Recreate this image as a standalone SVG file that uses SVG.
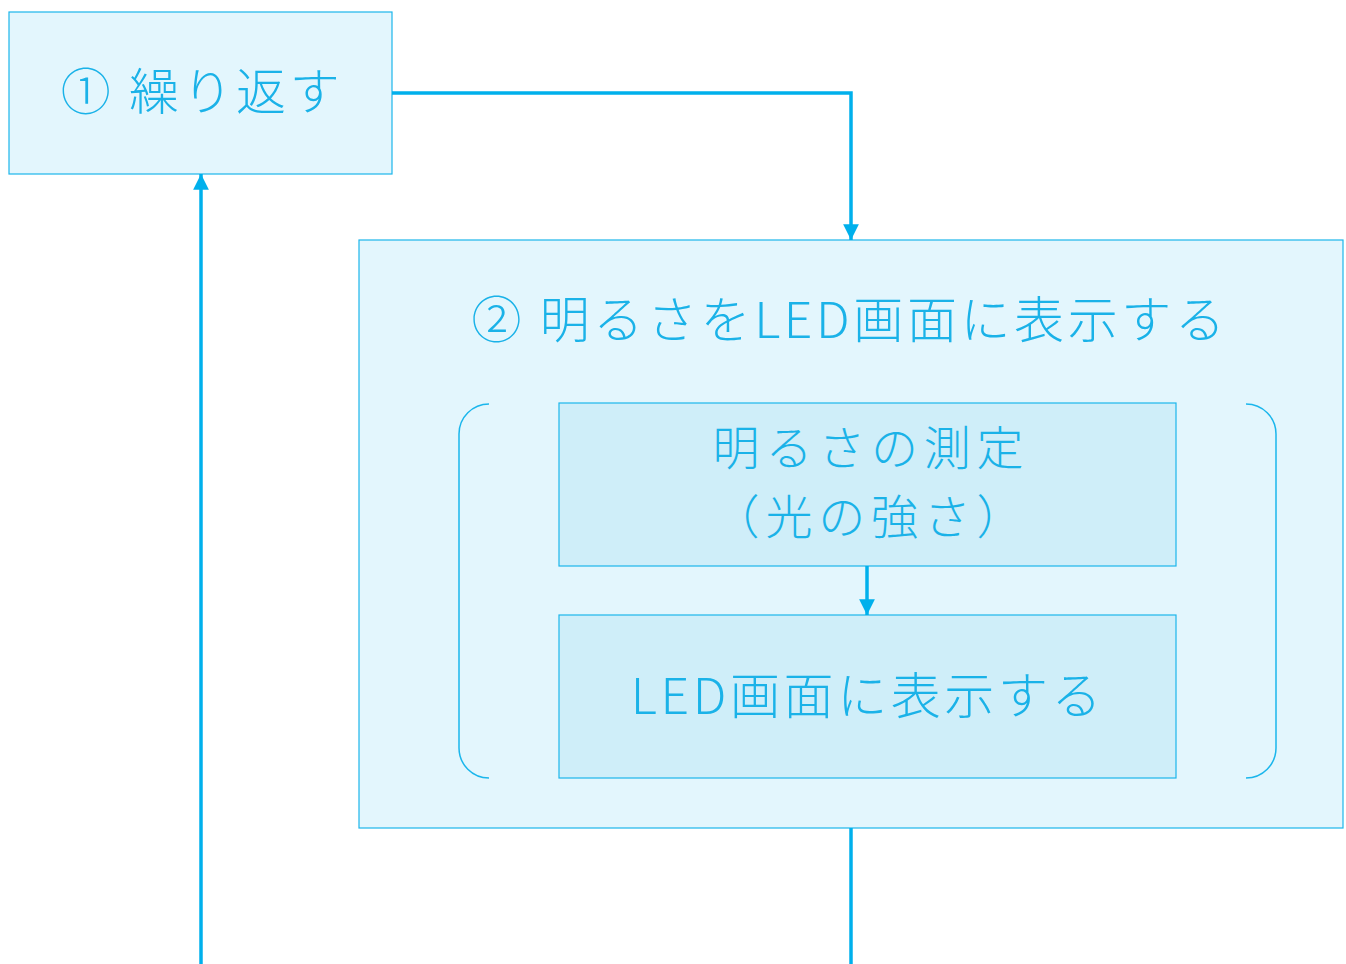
<svg xmlns="http://www.w3.org/2000/svg" width="1346" height="964" viewBox="0 0 1346 964">
<style>
.box{fill:#e3f6fd;stroke:#1bb6ec;stroke-width:1.2}
.inner{fill:#cfeef9;stroke:#1bb6ec;stroke-width:1.2}
.t{font-family:"Noto Sans CJK JP","Noto Sans",sans-serif;font-weight:300;fill:#1ab2e8;text-anchor:middle;font-size:50px;letter-spacing:3.6px}
.t2{font-size:47px;letter-spacing:5.8px}
.c{fill:none;stroke:#00b0ec;stroke-width:3.5}
.br{fill:none;stroke:#1bb6ec;stroke-width:1.5}
</style>
<defs>
<marker id="ah" viewBox="0 0 10 10" refX="10" refY="5" markerWidth="4.5" markerHeight="4.5" orient="auto" markerUnits="strokeWidth">
<path d="M0,0 L10,5 L0,10 z" fill="#00b0ec"/>
</marker>
</defs>
<rect width="1346" height="964" fill="#ffffff"/>
<g id="node-repeat">
<rect class="box" x="9" y="12" width="383" height="162"/>
<text class="t" x="202" y="110">① 繰り返す</text>
</g>
<g id="node-display">
<rect class="box" x="359" y="240" width="984" height="588"/>
<text class="t" x="850" y="338">② 明るさをLED画面に表示する</text>
<path class="br" d="M489,404 A30,30 0 0 0 459,434 L459,748 A30,30 0 0 0 489,778"/>
<path class="br" d="M1246,404 A30,30 0 0 1 1276,434 L1276,748 A30,30 0 0 1 1246,778"/>
</g>
<g id="node-measure">
<rect class="inner" x="559" y="403" width="617" height="163"/>
<text class="t t2" x="871" y="465">明るさの測定</text>
<text class="t t2" x="871" y="534">（光の強さ）</text>
</g>
<g id="node-led">
<rect class="inner" x="559" y="615" width="617" height="163"/>
<text class="t" x="868" y="714">LED画面に表示する</text>
</g>
<g id="connectors">
<path class="c" d="M392,93 L851,93 L851,240" marker-end="url(#ah)"/>
<path class="c" d="M867,566 L867,615" marker-end="url(#ah)"/>
<path class="c" d="M851,828 L851,964"/>
<path class="c" d="M201,964 L201,174" marker-end="url(#ah)"/>
</g>
</svg>
